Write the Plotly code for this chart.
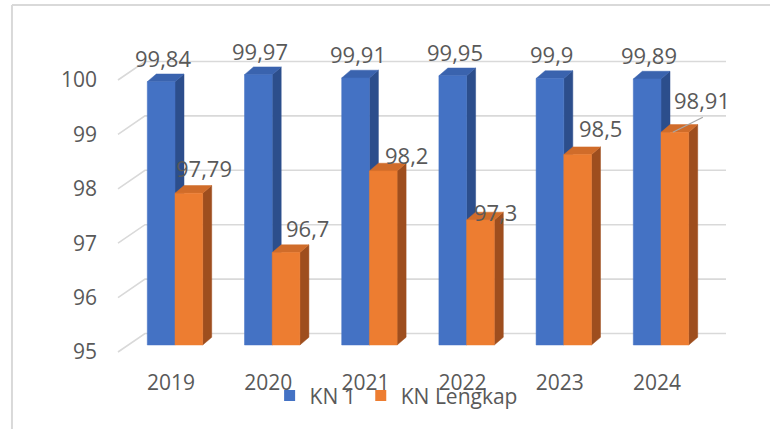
import plotly.graph_objects as go

# ---- data ----
years = ["2019", "2020", "2021", "2022", "2023", "2024"]
kn1 = [99.84, 99.97, 99.91, 99.95, 99.90, 99.89]
kn_lengkap = [97.79, 96.7, 98.2, 97.3, 98.5, 98.91]
y_ticks = [95, 96, 97, 98, 99, 100]

# ---- style ----
FONT = "Open Sans"
GRAY = "#595959"
GRID = "#D9D9D9"
BLUE = dict(front="#4472C4", top="#3A63AE", side="#2C4E8C")
ORANGE = dict(front="#ED7D31", top="#D06C2A", side="#9E4E1E")
BASE = 95
PX_X, PX_Y = 97.2, 54.4          # pixels per data unit
W = 0.285                        # bar width (x units)
DX, DY = 9 / PX_X, 7.7 / PX_Y    # bar depth
BACK_DY = 11.5 / PX_Y            # bar plane -> back wall (vertical)
FRONT_DY = -7 / PX_Y             # bar plane -> front edge (vertical)
WALL_FRONT_X = (118 - 175) / PX_X
WALL_BACK_X = (145 - 175) / PX_X
X_MAX = (726 - 175) / PX_X
blue_shift = [(2, 24)] * 6
orange_shift = [(15, 25), (21, 25), (23, 16), (15, 8), (23, 27), (27, 32)]

fig = go.Figure()

# gridlines (back wall + side wall diagonals)
gx, gy = [], []
for v in y_ticks:
    gx += [WALL_FRONT_X, WALL_BACK_X, X_MAX, None]
    gy += [v + FRONT_DY, v + BACK_DY, v + BACK_DY, None]
fig.add_trace(go.Scatter(x=gx, y=gy, mode="lines", line=dict(color=GRID, width=1.6),
                         hoverinfo="skip", showlegend=False))


def faces(vals, off):
    fx, fy, tx, ty, sx, sy = [], [], [], [], [], []
    for i, v in enumerate(vals):
        l, r = i + off, i + off + W
        fx += [l, r, r, l, l, None]
        fy += [BASE, BASE, v, v, BASE, None]
        tx += [l, r, r + DX, l + DX, l, None]
        ty += [v, v, v + DY, v + DY, v, None]
        sx += [r, r + DX, r + DX, r, r, None]
        sy += [BASE, BASE + DY, v + DY, v, BASE, None]
    return (fx, fy), (tx, ty), (sx, sy)


for vals, off, col in [(kn1, -W, BLUE), (kn_lengkap, 0, ORANGE)]:
    (fx, fy), (tx, ty), (sx, sy) = faces(vals, off)
    for xs, ys, c in [(sx, sy, col["side"]), (tx, ty, col["top"]), (fx, fy, col["front"])]:
        fig.add_trace(go.Scatter(x=xs, y=ys, mode="lines", fill="toself", fillcolor=c,
                                 line=dict(width=0.5, color=c), hoverinfo="skip",
                                 showlegend=False))

# legend entries
for name, c in [("KN 1", BLUE["front"]), ("KN Lengkap", ORANGE["front"])]:
    fig.add_trace(go.Scatter(x=[None], y=[None], mode="markers", name=name,
                             marker=dict(symbol="square", size=11, color=c)))

# data labels
anns = []
for i, v in enumerate(kn1):
    anns.append(dict(x=i - W / 2, y=v, text=f"{v:g}".replace(".", ","), showarrow=False,
                     xshift=blue_shift[i][0], yshift=blue_shift[i][1],
                     font=dict(family=FONT, size=22, color=GRAY)))
for i, v in enumerate(kn_lengkap):
    anns.append(dict(x=i + W / 2, y=v, text=f"{v:g}".replace(".", ","), showarrow=False,
                     xshift=orange_shift[i][0], yshift=orange_shift[i][1],
                     font=dict(family=FONT, size=22, color=GRAY)))

# leader line for last orange label
i_last = len(kn_lengkap) - 1
v_last = kn_lengkap[i_last]
fig.add_trace(go.Scatter(x=[i_last + W / 2 - 2 / PX_X, i_last + W / 2 + 28 / PX_X],
                         y=[v_last, v_last + 15 / PX_Y], mode="lines",
                         line=dict(color="#A6A6A6", width=1.2), hoverinfo="skip",
                         showlegend=False))

fig.update_layout(
    width=770, height=429,
    margin=dict(l=116, r=42, t=30, b=69),
    paper_bgcolor="white", plot_bgcolor="white",
    font=dict(family=FONT, color=GRAY, size=21),
    annotations=anns,
    showlegend=True,
    legend=dict(orientation="h", x=0.251, xanchor="left", y=-0.109, yanchor="middle",
                font=dict(family=FONT, size=21, color=GRAY), itemwidth=30,
                bgcolor="rgba(0,0,0,0)", tracegroupgap=0),
    shapes=[
        dict(type="line", xref="paper", yref="paper", x0=-0.17, x1=1.1, y0=1.0758, y1=1.0758,
             line=dict(color=GRID, width=2)),
        dict(type="line", xref="paper", yref="paper", x0=-0.17, x1=-0.17, y0=1.0758, y1=-0.3,
             line=dict(color=GRID, width=2)),
    ],
)
fig.update_xaxes(range=[(116 - 175) / PX_X, (728 - 175) / PX_X], tickvals=list(range(len(years))),
                 ticktext=years, showgrid=False, zeroline=False, showline=False, ticks="",
                 ticklabelstandoff=8, ticklabelshift=-4, fixedrange=True)
fig.update_yaxes(range=[BASE - 15 / PX_Y, BASE + 315 / PX_Y], tickvals=y_ticks,
                 ticktext=[str(t) for t in y_ticks], showgrid=False, zeroline=False,
                 showline=False, ticks="", ticklabelstandoff=18, ticklabelshift=7,
                 fixedrange=True)

fig.write_html("out.html", config={"displayModeBar": False},
               post_script="document.body.style.margin='0';")
